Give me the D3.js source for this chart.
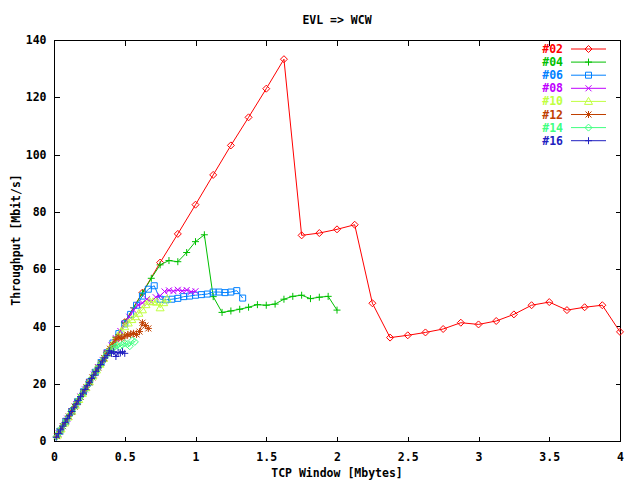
<!DOCTYPE html>
<html>
<head>
<meta charset="utf-8">
<script src="https://cdn.jsdelivr.net/npm/d3@7"></script>
<style>
  body { margin: 0; background: #fff; }
  svg { display: block; }
  text { font-family: "DejaVu Sans Mono", "Liberation Mono", monospace; font-weight: bold; font-size: 11.5px; }
</style>
</head>
<body>
<svg id="chart" width="640" height="480"></svg>
<script>
// --- Data: TCP window [Mbytes] vs throughput [Mbit/s], one pair of arrays per stream count ---
const x02 = [0.125,0.25,0.375,0.5,0.625,0.75,0.875,1,1.125,1.25,1.375,1.5,1.625,1.75,1.875,2,2.125,2.25,2.375,2.5,2.625,2.75,2.875,3,3.125,3.25,3.375,3.5,3.625,3.75,3.875,4];
const y02 = [10.3,20.7,31,41.5,51.8,62.3,72.3,82.5,92.9,103.2,113,123,133.3,71.8,72.6,73.9,75.5,48.1,36.1,36.9,37.9,39.1,41.3,40.7,41.9,44.2,47.4,48.5,45.7,46.7,47.4,38.1];

const x04 = [0.0625,0.125,0.1875,0.25,0.3125,0.375,0.4375,0.5,0.5625,0.625,0.6875,0.75,0.8125,0.875,0.9375,1,1.0625,1.125,1.1875,1.25,1.3125,1.375,1.4375,1.5,1.5625,1.625,1.6875,1.75,1.8125,1.875,1.9375,2];
const y04 = [5.2,10.4,15.5,20.7,25.9,31,36.2,41.3,46.5,51.6,56.8,61.5,63,62.6,65.8,69.6,72,50.4,44.9,45.4,46,46.7,47.6,47.4,47.8,49.5,50.5,50.9,49.7,50.2,50.5,45.7];

const x06 = [0.0417,0.0833,0.125,0.1667,0.2083,0.25,0.2917,0.3333,0.375,0.4167,0.4583,0.5,0.5417,0.5833,0.625,0.6667,0.7083,0.75,0.7917,0.8333,0.875,0.9167,0.9583,1,1.0417,1.0833,1.125,1.1667,1.2083,1.25,1.2917,1.3333];
const y06 = [3.4,6.9,10.3,13.7,17.2,20.6,24,27.4,30.8,34.2,37.5,40.9,44.2,47.4,50.6,53,54.2,49.5,49.3,49.5,49.8,50.4,50.6,50.9,51.1,51.3,52,52,51.8,52,52.5,49.9];

const x08 = [0.0313,0.0625,0.0938,0.125,0.1563,0.1875,0.2188,0.25,0.2813,0.3125,0.3438,0.375,0.4063,0.4375,0.4688,0.5,0.5313,0.5625,0.5938,0.625,0.6563,0.6875,0.7188,0.75,0.7813,0.8125,0.8438,0.875,0.9063,0.9375,0.9688,1];
const y08 = [2.6,5.2,7.8,10.3,12.9,15.5,18,20.6,23.2,25.8,28.3,30.8,33.4,35.9,38.4,40.9,43.4,45.7,47.4,48.2,49.5,48.6,50.2,50.7,52.2,52.6,52.3,52.8,52.4,52.7,52.1,52.3];

const x10 = [0.025,0.05,0.075,0.1,0.125,0.15,0.175,0.2,0.225,0.25,0.275,0.3,0.325,0.35,0.375,0.4,0.425,0.45,0.475,0.5,0.525,0.55,0.575,0.6,0.625,0.65,0.675,0.7,0.725,0.75,0.775,0.8];
const y10 = [2.1,4.2,6.3,8.4,10.4,12.5,14.5,16.6,18.6,20.7,22.7,24.8,26.8,28.8,30.8,32.7,34.6,36.5,38.3,39.9,41.2,42.4,43.4,44.6,45.8,47.6,48.8,48.6,48.5,46.5,48.3,49.6];

const x12 = [0.0208,0.0417,0.0625,0.0833,0.1042,0.125,0.1458,0.1667,0.1875,0.2083,0.2292,0.25,0.2708,0.2917,0.3125,0.3333,0.3542,0.375,0.3958,0.4167,0.4375,0.4583,0.4792,0.5,0.5208,0.5417,0.5625,0.5833,0.6042,0.625,0.6458,0.6667];
const y12 = [1.7,3.4,5.2,6.9,8.6,10.3,12,13.7,15.4,17.1,18.8,20.5,22.2,23.9,25.6,27.3,29,30.6,32.2,33.6,35.5,36.3,35.8,36.6,37.1,37.3,37.6,37.2,38.2,41.3,40.3,39.3];

const x14 = [0.0179,0.0357,0.0536,0.0714,0.0893,0.1071,0.125,0.1429,0.1607,0.1786,0.1964,0.2143,0.2321,0.25,0.2679,0.2857,0.3036,0.3214,0.3393,0.3571,0.375,0.3929,0.4107,0.4286,0.4464,0.4643,0.4821,0.5,0.5179,0.5357,0.5536,0.5714];
const y14 = [1.5,2.9,4.4,5.9,7.3,8.8,10.3,11.7,13.2,14.6,16.1,17.6,19,20.5,21.9,23.4,24.8,26.3,27.7,29.1,30.4,31.5,32.3,32.8,33.4,32.9,33.6,34.2,33.8,33.1,35.1,34.6];

const x16 = [0.0156,0.0313,0.0469,0.0625,0.0781,0.0938,0.1094,0.125,0.1406,0.1563,0.1719,0.1875,0.2031,0.2188,0.2344,0.25,0.2656,0.2813,0.2969,0.3125,0.3281,0.3438,0.3594,0.375,0.3906,0.4063,0.4219,0.4375,0.4531,0.4688,0.4844,0.5];
const y16 = [1.3,2.6,3.9,5.2,6.5,7.8,9,10.3,11.6,12.9,14.2,15.5,16.7,18,19.3,20.5,21.8,23,24.3,25.5,26.7,27.9,29,29.9,31.5,30.6,31.2,29.5,30.9,30.7,31.2,30.6];

const seriesNames = ["#02", "#04", "#06", "#08", "#10", "#12", "#14", "#16"];
const xTicks = [0, 0.5, 1, 1.5, 2, 2.5, 3, 3.5, 4];
const yTicks = [0, 20, 40, 60, 80, 100, 120, 140];

// table for drawing
const series = [
  { name: seriesNames[0], xs: x02, ys: y02, color: "#ff0000", mark: "diamond" },
  { name: seriesNames[1], xs: x04, ys: y04, color: "#00c000", mark: "plus" },
  { name: seriesNames[2], xs: x06, ys: y06, color: "#0080ff", mark: "square" },
  { name: seriesNames[3], xs: x08, ys: y08, color: "#c000ff", mark: "cross" },
  { name: seriesNames[4], xs: x10, ys: y10, color: "#c0ff40", mark: "triangle" },
  { name: seriesNames[5], xs: x12, ys: y12, color: "#c04000", mark: "star" },
  { name: seriesNames[6], xs: x14, ys: y14, color: "#40ff80", mark: "diamond" },
  { name: seriesNames[7], xs: x16, ys: y16, color: "#2020c0", mark: "plus" }
];

// --- Layout ---
const svg = d3.select("#chart");
const mLeft = 54, mRight = 620, mTop = 40, mBottom = 441;

const x = d3.scaleLinear().domain([0, 4]).range([mLeft, mRight]);
const y = d3.scaleLinear().domain([0, 140]).range([mBottom, mTop]);

// marker path generator (gnuplot style point types)
function markPath(type, cx, cy) {
  const s = 3.5;
  switch (type) {
    case "diamond":
      return `M${cx},${cy - s}L${cx + s},${cy}L${cx},${cy + s}L${cx - s},${cy}Z`;
    case "plus":
      return `M${cx - s},${cy}H${cx + s}M${cx},${cy - s}V${cy + s}`;
    case "square":
      return `M${cx - 3},${cy - 3}H${cx + 3}V${cy + 3}H${cx - 3}Z`;
    case "cross":
      return `M${cx - 3},${cy - 3}L${cx + 3},${cy + 3}M${cx - 3},${cy + 3}L${cx + 3},${cy - 3}`;
    case "triangle":
      return `M${cx},${cy - 4}L${cx + 4},${cy + 3}L${cx - 4},${cy + 3}Z`;
    case "star":
      return `M${cx - s},${cy}H${cx + s}M${cx},${cy - s}V${cy + s}M${cx - 3},${cy - 3}L${cx + 3},${cy + 3}M${cx - 3},${cy + 3}L${cx + 3},${cy - 3}`;
  }
  return "";
}

// --- Frame and ticks ---
svg.append("rect")
  .attr("x", mLeft + 0.5).attr("y", mTop + 0.5)
  .attr("width", mRight - mLeft).attr("height", mBottom - mTop)
  .attr("fill", "none").attr("stroke", "#000")
  .attr("shape-rendering", "crispEdges");

// bottom + mirrored top ticks
svg.append("g")
  .attr("transform", `translate(0,${mBottom + 0.5})`)
  .call(d3.axisBottom(x).tickValues(xTicks).tickSizeInner(-5).tickSizeOuter(0).tickPadding(11)
    .tickFormat(d => d))
  .call(g => g.select(".domain").remove());
svg.append("g")
  .attr("transform", `translate(0,${mTop + 0.5})`)
  .call(d3.axisTop(x).tickValues(xTicks.slice(1, -1)).tickSizeInner(-5).tickSizeOuter(0).tickFormat(""))
  .call(g => g.select(".domain").remove());

// left + mirrored right ticks
svg.append("g")
  .attr("transform", `translate(${mLeft + 0.5},0)`)
  .call(d3.axisLeft(y).tickValues(yTicks).tickSizeInner(-5).tickSizeOuter(0).tickPadding(8))
  .call(g => g.select(".domain").remove());
svg.append("g")
  .attr("transform", `translate(${mRight + 0.5},0)`)
  .call(d3.axisRight(y).tickValues(yTicks.slice(1, -1)).tickSizeInner(-5).tickSizeOuter(0).tickFormat(""))
  .call(g => g.select(".domain").remove());

svg.selectAll(".tick line").attr("stroke", "#000").attr("shape-rendering", "crispEdges");
svg.selectAll(".tick text")
  .attr("fill", "#000")
  .style("font-family", "'DejaVu Sans Mono', monospace")
  .style("font-weight", "bold")
  .style("font-size", "11.5px");

// --- Titles ---
svg.append("text").attr("x", 337).attr("y", 24).attr("text-anchor", "middle").text("EVL => WCW");
svg.append("text").attr("x", 337).attr("y", 477).attr("text-anchor", "middle").text("TCP Window [Mbytes]");
svg.append("text")
  .attr("transform", "translate(20,240) rotate(-90)")
  .attr("text-anchor", "middle")
  .text("Throughput [Mbit/s]");

// --- Series ---
const plot = svg.append("g");
const line = d3.line().x(d => x(d[0])).y(d => y(d[1]));

series.forEach(s => {
  const pts = s.xs.map((v, i) => [v, s.ys[i]]);
  const g = plot.append("g");
  g.append("path")
    .datum(pts)
    .attr("d", line)
    .attr("fill", "none")
    .attr("stroke", s.color)
    .attr("stroke-width", 1);
  g.selectAll("path.mark")
    .data(pts)
    .enter().append("path")
    .attr("class", "mark")
    .attr("d", d => markPath(s.mark, x(d[0]), y(d[1])))
    .attr("fill", "none")
    .attr("stroke", s.color)
    .attr("stroke-width", 1);
});

// --- Legend ---
const legend = svg.append("g");
series.forEach((s, i) => {
  const cy = 49 + i * 13.1;
  legend.append("text")
    .attr("x", 563).attr("y", cy + 4)
    .attr("text-anchor", "end")
    .attr("fill", s.color)
    .text(s.name);
  legend.append("line")
    .attr("x1", 571).attr("x2", 606)
    .attr("y1", cy).attr("y2", cy)
    .attr("stroke", s.color);
  legend.append("path")
    .attr("d", markPath(s.mark, 588.5, cy))
    .attr("fill", "none")
    .attr("stroke", s.color);
});
</script>
</body>
</html>
